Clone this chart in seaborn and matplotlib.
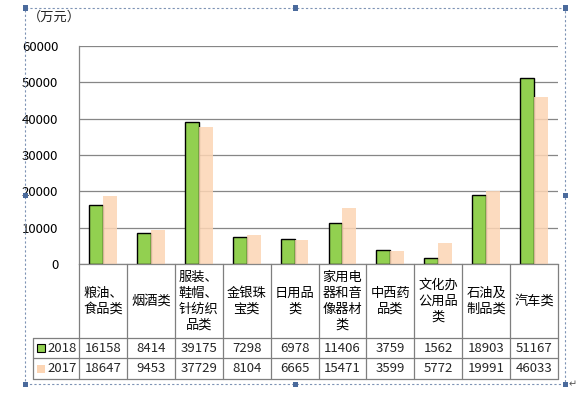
import numpy as np
import pandas as pd
import matplotlib
matplotlib.use('Agg')
import matplotlib.pyplot as plt
import seaborn as sns
from matplotlib.patches import Rectangle

# ---------------- data ----------------
categories = ['粮油、食品类', '烟酒类', '服装、鞋帽、针纺织品类', '金银珠宝类', '日用品类',
              '家用电器和音像器材类', '中西药品类', '文化办公用品类', '石油及制品类', '汽车类']
cat_labels = ['粮油、\n食品类', '烟酒类', '服装、\n鞋帽、\n针纺织\n品类', '金银珠\n宝类', '日用品\n类',
              '家用电\n器和音\n像器材\n类', '中西药\n品类', '文化办\n公用品\n类', '石油及\n制品类', '汽车类']
years = ['2018', '2017']
values_2018 = [16158, 8414, 39175, 7298, 6978, 11406, 3759, 1562, 18903, 51167]
values_2017 = [18647, 9453, 37729, 8104, 6665, 15471, 3599, 5772, 19991, 46033]
yticks = [0, 10000, 20000, 30000, 40000, 50000, 60000]
unit_label = '（万元）'

GREEN = '#92D050'
PEACH = '#FCD5B4'
GRID = '#868686'

sns.set_theme(style='white')
plt.rcParams['font.family'] = ['Noto Sans CJK SC', 'DejaVu Sans']
plt.rcParams['font.size'] = 9

W, H = 578, 396
fig = plt.figure(figsize=(W / 100, H / 100), dpi=100)
fig.patch.set_facecolor('white')


def fx(px):
    return px / W


def fy(py):
    return 1 - py / H


L, R, T, B = 79, 558, 46, 264
TB = 379  # table bottom
ax = fig.add_axes([fx(L), fy(B), (R - L) / W, (B - T) / H])

df = pd.DataFrame({
    'cat': categories * 2,
    'year': [years[0]] * len(categories) + [years[1]] * len(categories),
    'val': values_2018 + values_2017,
})
sns.barplot(data=df, x='cat', y='val', hue='year', hue_order=years,
            palette={years[0]: GREEN, years[1]: PEACH}, width=0.58, gap=0,
            saturation=1, legend=False, ax=ax, err_kws={'linewidth': 0})

for bar in ax.containers[0]:
    bar.set_edgecolor('black')
    bar.set_linewidth(1.0)
for bar in ax.containers[1]:
    bar.set_edgecolor('none')
    bar.set_alpha(0.85)

ax.set_xlim(-0.5, len(categories) - 0.5)
ax.set_ylim(0, 60000)
ax.set_yticks(yticks)
ax.set_yticklabels([str(v) for v in yticks])
ax.yaxis.grid(True, color=GRID, linewidth=0.9)
ax.set_axisbelow(True)
ax.set_xticks([])
ax.set_xlabel('')
ax.set_ylabel('')
ax.tick_params(axis='y', length=0, pad=15, labelsize=9.5, labelcolor='black')
for s in ['top', 'right']:
    ax.spines[s].set_visible(False)
ax.spines['left'].set_color(GRID)
ax.spines['left'].set_linewidth(0.9)
ax.spines['bottom'].set_color(GRID)
ax.spines['bottom'].set_linewidth(0.9)

# ---------------- data table ----------------
tax = fig.add_axes([fx(L), fy(TB), (R - L) / W, (TB - B) / H])
tax.set_xlim(-0.5, len(categories) - 0.5)
tax.set_ylim(TB, B)
tax.axis('off')

ppu = (R - L) / len(categories)


def dx(px):
    return -0.5 + (px - L) / ppu


x0 = dx(33)
xr = len(categories) - 0.5
r1, r2 = 338, 358
lc = '#7F7F7F'
lw = 0.9
for yy in [r1, r2, TB]:
    tax.plot([x0, xr], [yy, yy], color=lc, lw=lw, clip_on=False)
for k in range(len(categories) + 1):
    tax.plot([k - 0.5, k - 0.5], [B, TB], color=lc, lw=lw, clip_on=False)
tax.plot([x0, x0], [r1, TB], color=lc, lw=lw, clip_on=False)

for i, lab in enumerate(cat_labels):
    tax.text(i, (B + r1) / 2 + 0.5, lab, ha='center', va='center', fontsize=9.5,
             linespacing=1.3, color='black')
    tax.text(i, (r1 + r2) / 2, str(values_2018[i]), ha='center', va='center', fontsize=9.5)
    tax.text(i, (r2 + TB) / 2, str(values_2017[i]), ha='center', va='center', fontsize=9.5)

ksz = 8 / ppu
for yy, col, ec, yr in [((r1 + r2) / 2, GREEN, 'black', years[0]),
                        ((r2 + TB) / 2, PEACH, 'none', years[1])]:
    tax.add_patch(Rectangle((dx(37), yy - 4), ksz, 8, facecolor=col, edgecolor=ec,
                            lw=0.8, clip_on=False))
    tax.text(dx(47), yy, yr, ha='left', va='center', fontsize=9.5)

# unit label
fig.text(fx(28), fy(17), unit_label, ha='left', va='center', fontsize=9.5)

# dashed chart-area border with handles
BC = '#7E93B5'
fig.add_artist(Rectangle((fx(25), fy(384)), (565 - 25) / W, (384 - 8) / H,
                         transform=fig.transFigure, fill=False, edgecolor=BC,
                         linestyle=(0, (2, 2)), lw=0.8))
for hx, hy in [(25, 8), (295, 8), (565, 8), (25, 195), (565, 195),
               (25, 384), (295, 384), (565, 384)]:
    fig.add_artist(Rectangle((fx(hx - 2.5), fy(hy + 2.5)), 5 / W, 5 / H,
                             transform=fig.transFigure, facecolor='#4A6A9C',
                             edgecolor='none'))
fig.text(fx(569), fy(384), '↵', fontsize=7, color='#555555', ha='left', va='center',
         family=['DejaVu Sans'])

fig.savefig('out.png', dpi=100, facecolor='white')
